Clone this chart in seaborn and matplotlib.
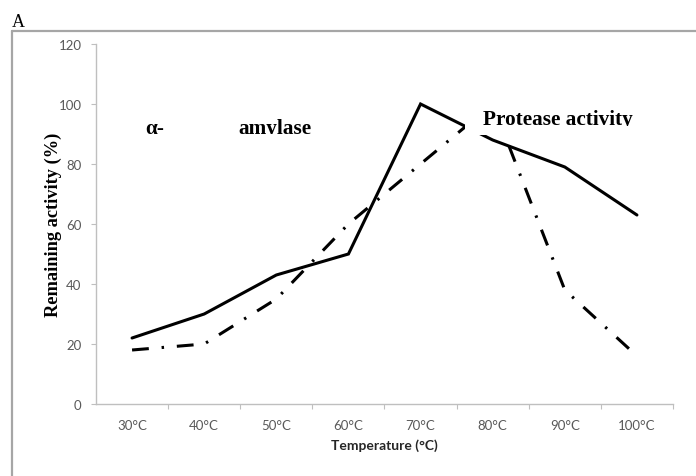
import numpy as np
import pandas as pd
import matplotlib
matplotlib.use("Agg")
import matplotlib.pyplot as plt
import seaborn as sns
from matplotlib.lines import Line2D
from matplotlib.patches import Rectangle
from matplotlib.transforms import Bbox, TransformedBbox

# Thermal stability data
temperatures = ["30°C", "40°C", "50°C", "60°C", "70°C", "80°C", "90°C", "100°C"]
amylase_activity = [22, 30, 43, 50, 100, 88, 79, 63]
protease_activity = [18, 20, 35, 60, 80, 100, 38, 16]
y_ticks = [0, 20, 40, 60, 80, 100, 120]

sns.set_style("white")
plt.rcParams["font.family"] = ["Lato", "DejaVu Sans"]

W, H = 696, 477
fig = plt.figure(figsize=(W / 100, H / 100), dpi=100)
ax = fig.add_axes([96 / W, 1 - 405 / H, (673 - 96) / W, (405 - 45) / H])

df = pd.DataFrame({
    "pos": np.arange(len(temperatures)),
    "amylase": amylase_activity,
    "protease": protease_activity,
})

sns.lineplot(data=df, x="pos", y="amylase", ax=ax, color="black",
             linewidth=2.2, solid_joinstyle="miter", zorder=2)
sns.lineplot(data=df, x="pos", y="protease", ax=ax, color="black",
             linewidth=2.2, linestyle=(0, (5.5, 4.2, 0.8, 4.2)), zorder=2)

ax.set_xlim(-0.5, len(temperatures) - 0.5)
ax.set_ylim(0, 120)

grey_axis = "#bfbfbf"
grey_text = "#595959"

ax.set_xticks(df["pos"])
ax.set_xticklabels(temperatures)
ax.set_xticks(np.arange(0.5, len(temperatures), 1.0), minor=True)
ax.tick_params(axis="x", which="major", length=0, pad=11, labelsize=9.5,
               labelcolor=grey_text)
ax.tick_params(axis="x", which="minor", length=3.5, width=0.8, color=grey_axis,
               direction="out", bottom=True)

ax.set_yticks(y_ticks)
ax.tick_params(axis="y", which="major", length=3.5, width=0.8, color=grey_axis,
               direction="out", pad=7, labelsize=9.5, labelcolor=grey_text, left=True)

for side in ("top", "right"):
    ax.spines[side].set_visible(False)
for side in ("left", "bottom"):
    ax.spines[side].set_color(grey_axis)
    ax.spines[side].set_linewidth(1.0)

ax.set_xlabel("Temperature (°C)", fontsize=10, fontweight="bold", color="#262626",
              labelpad=5)
ax.set_ylabel("Remaining activity (%)", fontsize=13.2, fontweight="bold",
              family="Liberation Serif", color="black")
ax.yaxis.set_label_coords(-0.059, 0.5)

# white text box behind the protease label
ax.add_patch(Rectangle((4.62, 89.7), 2.6, 12.3, facecolor="white",
                       edgecolor="none", zorder=3))

serif_bold = dict(family="Liberation Serif", fontweight="bold", fontsize=15.3,
                  color="black", va="baseline", ha="left", zorder=4)

t1 = ax.text(0.18, 90.3, "α-", **serif_bold)
t2 = ax.text(1.47, 90.3, "amylase", **serif_bold)
t3 = ax.text(4.87, 93.3, "Protease activity", **serif_bold)

# labels are cut off just below their baseline
for t, low in ((t2, 90.0), (t3, 92.7)):
    t.set_clip_box(TransformedBbox(Bbox([[-0.5, low], [7.5, 120]]), ax.transData))
    t.set_clip_on(True)

# outer panel frame and panel letter
fig.add_artist(Line2D([12 / W, 12 / W], [0, 1 - 32 / H], transform=fig.transFigure,
                      color="#a6a6a6", linewidth=1.6))
fig.add_artist(Line2D([12 / W, 1], [1 - 32 / H, 1 - 32 / H], transform=fig.transFigure,
                      color="#a6a6a6", linewidth=1.6))
fig.text(12 / W, 1 - 27 / H, "A", family="Liberation Serif", fontsize=13,
         va="baseline", ha="left", color="black")

fig.savefig("out.png", dpi=100)
